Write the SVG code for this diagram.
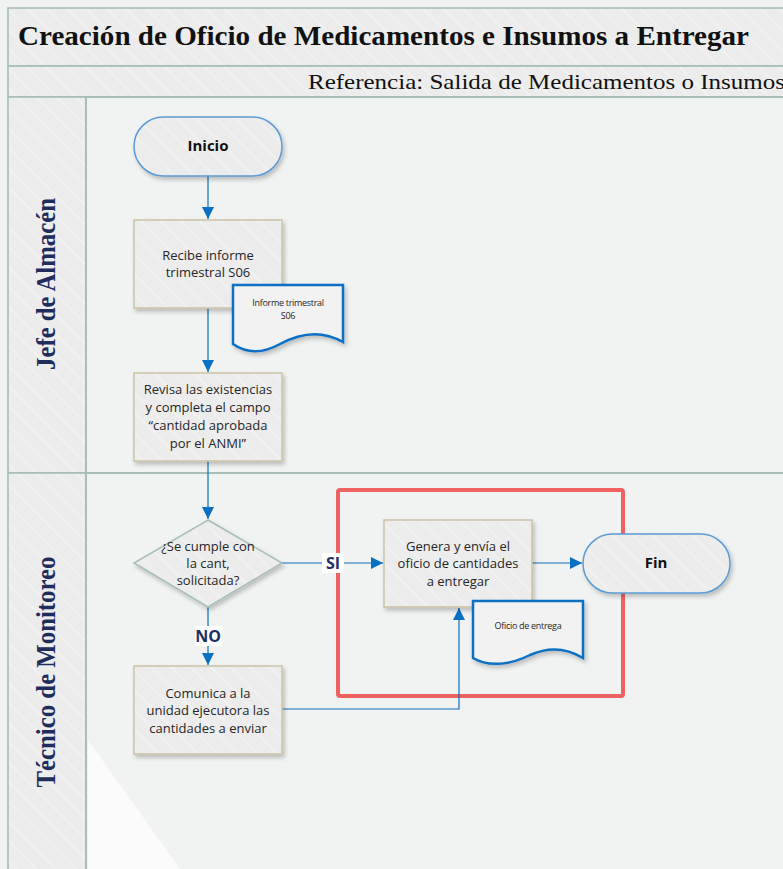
<svg xmlns="http://www.w3.org/2000/svg" width="783" height="869" viewBox="0 0 783 869">
<defs>
<pattern id="stripe" width="14" height="14" patternUnits="userSpaceOnUse" patternTransform="rotate(45)">
<rect width="14" height="14" fill="#ececec"/>
<rect width="14" height="1.5" fill="#f2f2f2"/>
</pattern>
<filter id="sh" x="-10%" y="-10%" width="130%" height="130%">
<feDropShadow dx="2" dy="3" stdDeviation="2" flood-color="#000" flood-opacity="0.22"/>
</filter>
<marker id="arr" viewBox="0 0 10 10" refX="10" refY="5" markerWidth="12" markerHeight="12" markerUnits="userSpaceOnUse" orient="auto">
<path d="M0,0 L10,5 L0,10 Z" fill="#0a70c2"/>
</marker>
</defs>
<style>
.frame{fill:url(#stripe);stroke:#a6bdb6;stroke-width:1.6}
.box{fill:url(#stripe);stroke:#cbc3a6;stroke-width:1.5;filter:url(#sh)}
.term{fill:url(#stripe);stroke:#5b9bd5;stroke-width:1.5;filter:url(#sh)}
.dia{fill:url(#stripe);stroke:#a6bdb6;stroke-width:1.5;filter:url(#sh)}
.doc{fill:#f2f2f2;stroke:#0a70c2;stroke-width:2.5;filter:url(#sh)}
.t{font-family:"Open Sans","Noto Sans",sans-serif;font-size:13px;fill:#262626;text-anchor:middle}
.ts{font-family:"Open Sans","Noto Sans",sans-serif;font-size:9px;fill:#262626;text-anchor:middle;letter-spacing:-0.3px}
.tb{font-family:"Open Sans","Noto Sans",sans-serif;font-size:15px;font-weight:bold;fill:#111;text-anchor:middle}
.lab{font-family:"Open Sans","Noto Sans",sans-serif;font-size:16px;font-weight:bold;fill:#1f2f66;text-anchor:middle}
.lane{font-family:"Liberation Serif","Times New Roman",serif;font-size:27px;font-weight:bold;fill:#1f2d5c;text-anchor:middle}
.conn{fill:none;stroke:#0a70c2;stroke-width:1.2}
</style>
<rect width="783" height="869" fill="#f1f2f2"/>
<g id="pool">
<rect class="frame" x="8" y="8" width="790" height="58"/>
<rect class="frame" x="8" y="66" width="790" height="31"/>
<rect class="frame" x="8" y="97" width="78" height="376"/>
<rect class="frame" x="8" y="473" width="78" height="420"/>
<rect x="86" y="97" width="712" height="376" fill="none" stroke="#a6bdb6" stroke-width="1.6"/>
<rect x="86" y="473" width="712" height="420" fill="none" stroke="#a6bdb6" stroke-width="1.6"/>
<polygon points="88,740 180,869 88,869" fill="#fbfbfb"/>
<text x="18" y="45" font-family="Liberation Serif,'Times New Roman',serif" font-size="28" font-weight="bold" fill="#111" textLength="731" lengthAdjust="spacingAndGlyphs">Creación de Oficio de Medicamentos e Insumos a Entregar</text>
<text x="308" y="89" font-family="Liberation Serif,'Times New Roman',serif" font-size="22" fill="#111" textLength="477" lengthAdjust="spacingAndGlyphs">Referencia: Salida de Medicamentos o Insumos</text>
<text class="lane" transform="translate(55,284) rotate(-90)" textLength="172" lengthAdjust="spacingAndGlyphs">Jefe de Almacén</text>
<text class="lane" transform="translate(55,672) rotate(-90)" textLength="231" lengthAdjust="spacingAndGlyphs">Técnico de Monitoreo</text>
</g>
<g id="highlight">
<rect x="338" y="490" width="285" height="206" rx="2" fill="none" stroke="#f06262" stroke-width="4"/>
</g>
<g id="connectors">
<line class="conn" x1="208" y1="176" x2="208" y2="219" marker-end="url(#arr)"/>
<line class="conn" x1="208" y1="308" x2="208" y2="372" marker-end="url(#arr)"/>
<line class="conn" x1="208" y1="461" x2="208" y2="519" marker-end="url(#arr)"/>
<line class="conn" x1="282" y1="563" x2="383" y2="563" marker-end="url(#arr)"/>
<line class="conn" x1="208" y1="607" x2="208" y2="665" marker-end="url(#arr)"/>
<line class="conn" x1="532" y1="563" x2="582" y2="563" marker-end="url(#arr)"/>
<polyline class="conn" points="282,709 459,709 459,608" marker-end="url(#arr)"/>
<rect x="322" y="553" width="22" height="20" fill="#fff"/>
<text class="lab" x="333" y="569">SI</text>
<rect x="195" y="626" width="27" height="20" fill="#fff"/>
<text class="lab" x="208" y="642">NO</text>
</g>
<g id="inicio">
<rect class="term" x="134" y="117" width="148" height="59" rx="29.5"/>
<text class="tb" x="208" y="151">Inicio</text>
</g>
<g id="recibe">
<rect class="box" x="134" y="220" width="148" height="88"/>
<text class="t" x="208" y="260">Recibe informe</text>
<text class="t" x="208" y="277">trimestral S06</text>
</g>
<g id="doc-informe">
<path class="doc" d="M233,285 H343 V342 C322,330 300,333 280,344 C262,354 246,353 233,344 Z"/>
<text class="ts" x="288" y="306">Informe trimestral</text>
<text class="ts" x="288" y="319">S06</text>
</g>
<g id="revisa">
<rect class="box" x="134" y="373" width="148" height="88"/>
<text class="t" x="208" y="394">Revisa las existencias</text>
<text class="t" x="208" y="412">y completa el campo</text>
<text class="t" x="208" y="430">“cantidad aprobada</text>
<text class="t" x="208" y="448">por el ANMI”</text>
</g>
<g id="decision">
<polygon class="dia" points="208,520 282,563 208,607 134,563"/>
<text class="t" x="208" y="551">¿Se cumple con</text>
<text class="t" x="208" y="568">la cant,</text>
<text class="t" x="208" y="585">solicitada?</text>
</g>
<g id="comunica">
<rect class="box" x="134" y="666" width="148" height="88"/>
<text class="t" x="208" y="698">Comunica a la</text>
<text class="t" x="208" y="715">unidad ejecutora las</text>
<text class="t" x="208" y="733">cantidades a enviar</text>
</g>
<g id="genera">
<rect class="box" x="384" y="520" width="148" height="87"/>
<text class="t" x="458" y="551">Genera y envía el</text>
<text class="t" x="458" y="568">oficio de cantidades</text>
<text class="t" x="458" y="586">a entregar</text>
</g>
<g id="doc-oficio">
<path class="doc" d="M473,601 H583 V658 C565,647 548,647 530,655 C512,664 490,668 473,658 Z"/>
<text class="ts" x="528" y="629">Oficio de entrega</text>
</g>
<g id="fin">
<rect class="term" x="583" y="534" width="147" height="59" rx="29.5"/>
<text class="tb" x="656" y="568">Fin</text>
</g>
</svg>
